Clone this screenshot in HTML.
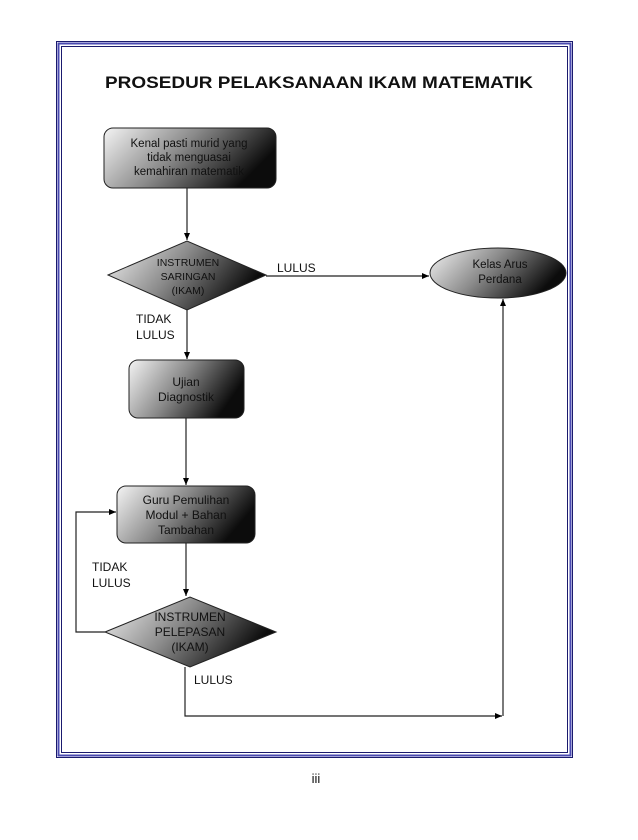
<!DOCTYPE html>
<html><head><meta charset="utf-8"><style>
html,body{margin:0;padding:0;background:#fff;}
svg{display:block;}
text{font-family:"Liberation Sans",sans-serif;}
</style></head><body>
<svg width="638" height="840" viewBox="0 0 638 840" xmlns="http://www.w3.org/2000/svg">
<defs>
<linearGradient id="g" x1="0" y1="0" x2="1" y2="0.35">
<stop offset="0" stop-color="#f4f4f4"/><stop offset="0.5" stop-color="#8a8a8a"/><stop offset="1" stop-color="#0c0c0c"/>
</linearGradient>
<marker id="a" markerWidth="8" markerHeight="8" refX="7" refY="4" orient="auto" markerUnits="userSpaceOnUse">
<path d="M0,1 L7,4 L0,7 z" fill="#000"/></marker>
</defs>
<rect x="56.5" y="41.5" width="516" height="716" fill="none" stroke="#1a1a6e" stroke-width="1"/>
<rect x="58.5" y="43.5" width="512" height="712" fill="none" stroke="#4a4ab0" stroke-width="2"/>
<rect x="61.5" y="46.5" width="506" height="706" fill="none" stroke="#1a1a6e" stroke-width="1"/>
<text x="105" y="88" style="font-family:'Liberation Sans',sans-serif" font-weight="bold" font-size="17" fill="#111" textLength="428" lengthAdjust="spacingAndGlyphs">PROSEDUR PELAKSANAAN IKAM MATEMATIK</text>

<g font-size="11.5" fill="#111" text-anchor="middle">
<rect x="104" y="128" width="172" height="60" rx="9" fill="url(#g)" stroke="#222"/>
<text x="189" y="147">Kenal pasti murid yang</text>
<text x="189" y="161">tidak menguasai</text>
<text x="189" y="175">kemahiran matematik</text>

<polygon points="108,275 187,241 266,275 187,310" fill="url(#g)" stroke="#222"/>
<text x="188" y="266" font-size="10.5">INSTRUMEN</text>
<text x="188" y="280" font-size="10.5">SARINGAN</text>
<text x="188" y="294" font-size="10.5">(IKAM)</text>

<ellipse cx="498" cy="273" rx="68" ry="25" fill="url(#g)" stroke="#222"/>
<text x="500" y="268">Kelas Arus</text>
<text x="500" y="283">Perdana</text>

<rect x="129" y="360" width="115" height="58" rx="9" fill="url(#g)" stroke="#222"/>
<text x="186" y="386" font-size="12">Ujian</text>
<text x="186" y="401" font-size="12">Diagnostik</text>

<rect x="117" y="486" width="138" height="57" rx="9" fill="url(#g)" stroke="#222"/>
<text x="186" y="504" font-size="12">Guru Pemulihan</text>
<text x="186" y="519" font-size="12">Modul + Bahan</text>
<text x="186" y="534" font-size="12">Tambahan</text>

<polygon points="105,632 190,597 276,632 190,667" fill="url(#g)" stroke="#222"/>
<text x="190" y="621" font-size="12">INSTRUMEN</text>
<text x="190" y="636" font-size="12">PELEPASAN</text>
<text x="190" y="651" font-size="12">(IKAM)</text>
</g>

<g stroke="#222" stroke-width="1.2" fill="none">
<line x1="187" y1="188" x2="187" y2="240" marker-end="url(#a)"/>
<line x1="266" y1="276" x2="429" y2="276" marker-end="url(#a)"/>
<line x1="187" y1="310" x2="187" y2="359" marker-end="url(#a)"/>
<line x1="186" y1="418" x2="186" y2="485" marker-end="url(#a)"/>
<line x1="186" y1="543" x2="186" y2="596" marker-end="url(#a)"/>
<polyline points="105,632 76,632 76,512 116,512" marker-end="url(#a)"/>
<polyline points="185,667 185,716 502,716" marker-end="url(#a)"/>
<line x1="503" y1="716" x2="503" y2="299" marker-end="url(#a)"/>
</g>

<g font-size="12" fill="#111">
<text x="277" y="272">LULUS</text>
<text x="136" y="323">TIDAK</text>
<text x="136" y="339">LULUS</text>
<text x="92" y="571">TIDAK</text>
<text x="92" y="587">LULUS</text>
<text x="194" y="684">LULUS</text>
</g>
<text x="316" y="783" font-size="13" text-anchor="middle" fill="#111">iii</text>
</svg>
</body></html>
